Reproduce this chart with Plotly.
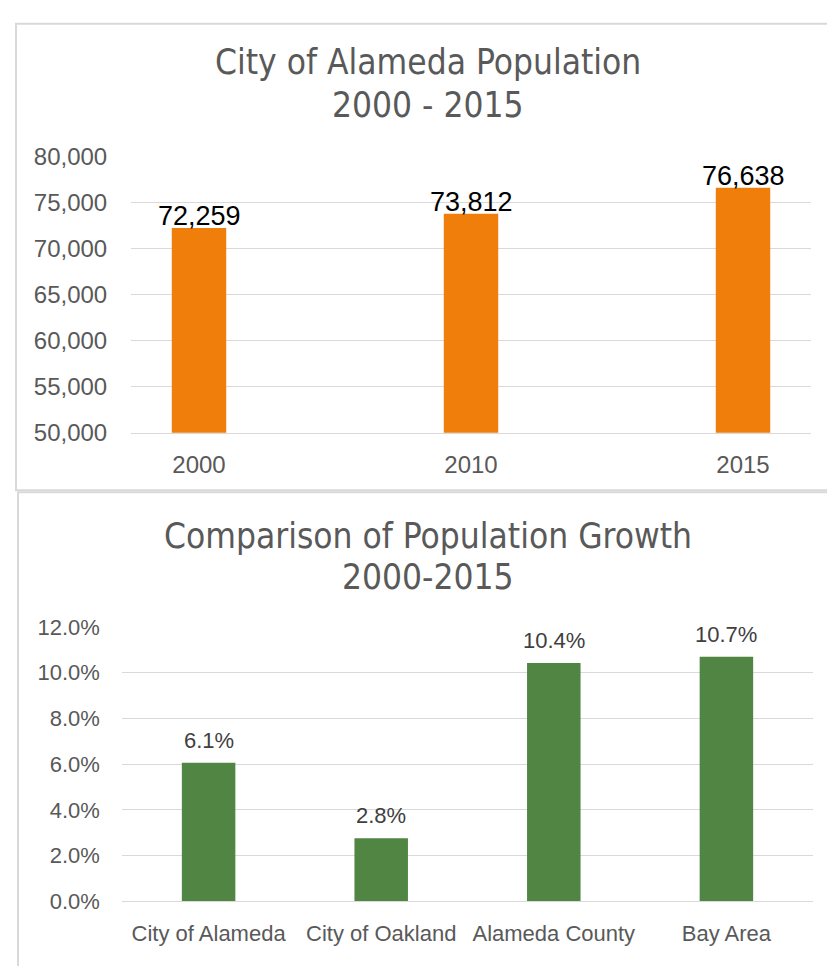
import plotly.graph_objects as go

# ---- data ----
years = ["2000", "2010", "2015"]
population = [72259, 73812, 76638]

regions = ["City of Alameda", "City of Oakland", "Alameda County", "Bay Area"]
growth = [0.0606, 0.0276, 0.1043, 0.107]

W, H = 827, 966
def px(x):
    return x / W
def py(y):
    return 1 - y / H

TITLE_FONT = "Liberation Sans Narrow, DejaVu Sans Condensed, Arial Narrow, sans-serif"
BODY_FONT = "Liberation Sans, Arial, sans-serif"
GREY = "#595959"
GRID = "#D9D9D9"

fig = go.Figure()

fig.add_trace(go.Bar(
    x=years, y=population, xaxis="x", yaxis="y",
    marker=dict(color="#EF7F0A", line=dict(width=0)),
    width=0.2, hoverinfo="skip",
))

fig.add_trace(go.Bar(
    x=regions, y=growth, xaxis="x2", yaxis="y2",
    marker=dict(color="#508543", line=dict(width=0)),
    width=0.31, hoverinfo="skip",
))

# data labels (category position = index in the data list)
for i, yv in enumerate(population):
    fig.add_annotation(
        x=i, y=yv, xref="x", yref="y", text=f"{yv:,.0f}",
        showarrow=False, xanchor="center", yanchor="bottom", yshift=-5,
        font=dict(family=BODY_FONT, size=27, color="#000000"),
    )
for i, yv in enumerate(growth):
    fig.add_annotation(
        x=i, y=yv, xref="x2", yref="y2", text=f"{yv*100:.1f}%",
        showarrow=False, xanchor="center", yanchor="bottom", yshift=8,
        font=dict(family=BODY_FONT, size=22, color="#404040"),
    )

tickfont_top = dict(family=BODY_FONT, size=24, color=GREY)
tickfont_bot = dict(family=BODY_FONT, size=22, color=GREY)

fig.update_layout(
    width=W, height=H,
    margin=dict(l=0, r=0, t=0, b=0),
    paper_bgcolor="white", plot_bgcolor="white",
    showlegend=False,
    xaxis=dict(
        domain=[px(131), px(811)], anchor="y", type="category",
        range=[-0.25, 2.25], showgrid=False,
        showline=True, linecolor=GRID, linewidth=1.3,
        ticks="outside", ticklen=10, tickcolor="rgba(0,0,0,0)",
        tickfont=tickfont_top,
    ),
    yaxis=dict(
        domain=[py(430.7), py(147)], anchor="x",
        range=[50000, 80000], dtick=5000, tickformat=",.0f",
        showgrid=True, gridcolor=GRID, gridwidth=1.3, zeroline=False,
        ticks="outside", ticklen=18, tickcolor="rgba(0,0,0,0)",
        tickfont=tickfont_top,
    ),
    xaxis2=dict(
        domain=[px(122.3), px(812.7)], anchor="y2", type="category",
        range=[-0.5, 3.5], showgrid=False,
        showline=True, linecolor=GRID, linewidth=1.3,
        ticks="outside", ticklen=12, tickcolor="rgba(0,0,0,0)",
        tickfont=tickfont_bot,
    ),
    yaxis2=dict(
        domain=[py(912.7), py(630.7)], anchor="x2",
        range=[0, 0.12], dtick=0.02, tickformat=".1%",
        showgrid=True, gridcolor=GRID, gridwidth=1.3, zeroline=False,
        ticks="outside", ticklen=17, tickcolor="rgba(0,0,0,0)",
        tickfont=tickfont_bot,
    ),
    shapes=[
        dict(type="rect", xref="paper", yref="paper",
             x0=px(16), x1=px(860), y0=py(490), y1=py(10),
             line=dict(color=GRID, width=2), fillcolor="rgba(0,0,0,0)", layer="below"),
        dict(type="rect", xref="paper", yref="paper",
             x0=px(18), x1=px(860), y0=py(1000), y1=py(492),
             line=dict(color=GRID, width=2), fillcolor="rgba(0,0,0,0)", layer="below"),
    ],
)

titles = [
    ("City of Alameda Population", 49),
    ("2000 - 2015", 94),
    ("Comparison of Population Growth", 537.5),
    ("2000-2015", 579.5),
]
for txt, yc in titles:
    fig.add_annotation(
        text=txt, xref="paper", yref="paper", x=px(428), y=py(yc),
        xanchor="center", yanchor="middle", showarrow=False,
        font=dict(family=TITLE_FONT, size=35, color=GREY),
    )

fig.write_html(
    "out.html",
    config={"displayModeBar": False},
    post_script="document.body.style.margin='0';",
)
